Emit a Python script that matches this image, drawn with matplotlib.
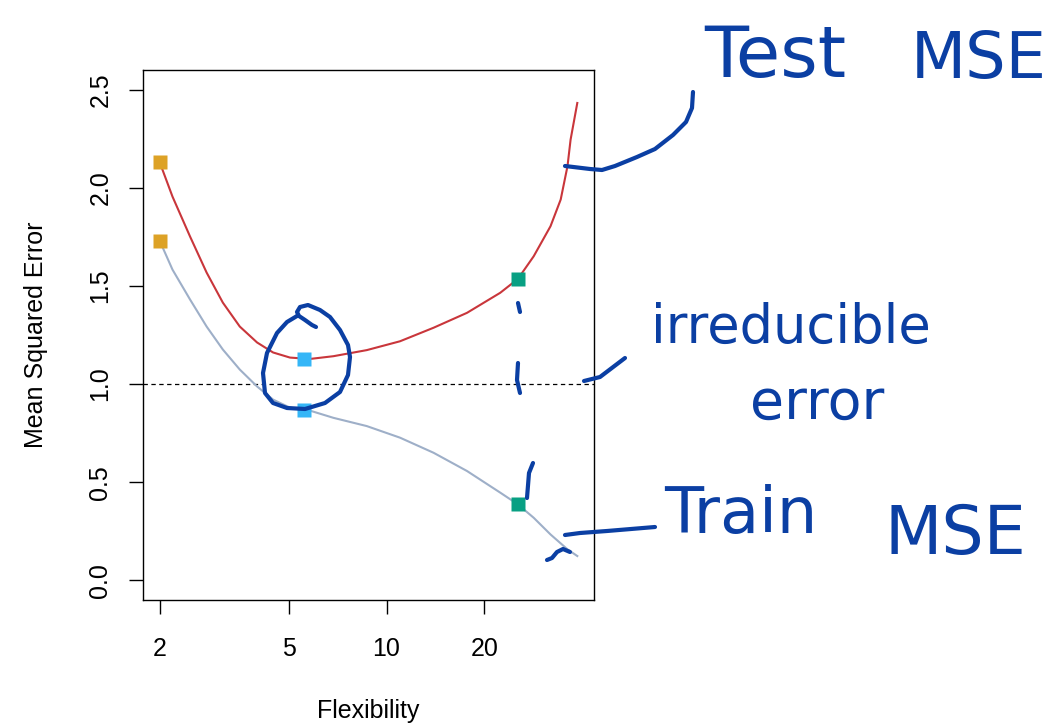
import matplotlib
matplotlib.use('Agg')
import matplotlib.pyplot as plt
import numpy as np

plt.rcParams['font.family'] = ['Liberation Sans', 'DejaVu Sans']

# curves (flexibility on a log axis)
flex_test = [2, 2.19, 2.48, 2.79, 3.13, 3.53, 3.99, 4.47, 5.04, 5.56, 5.88, 6.86, 8.69,
             11.0, 13.96, 17.7, 22.4, 25.4, 28.4, 32.0, 34.4, 36.1, 36.9, 38.7]
test_mse = [2.13, 1.955, 1.752, 1.568, 1.415, 1.293, 1.212, 1.161, 1.135, 1.13, 1.129, 1.142, 1.173,
            1.218, 1.287, 1.363, 1.465, 1.536, 1.651, 1.804, 1.94, 2.11, 2.245, 2.432]

flex_train = [2, 2.19, 2.48, 2.79, 3.13, 3.53, 3.99, 4.47, 5.04, 5.56, 5.88, 6.86, 8.69,
              11.0, 13.96, 17.7, 22.4, 25.4, 28.4, 32.0, 36.1, 38.7]
train_mse = [1.73, 1.583, 1.431, 1.293, 1.176, 1.074, 0.988, 0.921, 0.88, 0.87, 0.862, 0.828, 0.786,
             0.727, 0.65, 0.557, 0.447, 0.387, 0.319, 0.234, 0.158, 0.124]

# the three fitted models
pt_flex = [2, 5.56, 25.4]
pt_test = [2.13, 1.13, 1.536]
pt_train = [1.73, 0.87, 0.387]
pt_colors = ['#DDA226', '#35B6F7', '#08A083']

irreducible = 1.0
x_ticks = [2, 5, 10, 20]
y_ticks = [0.0, 0.5, 1.0, 1.5, 2.0, 2.5]

ink = '#0B3FA3'

fig = plt.figure(figsize=(10.56, 7.26), dpi=100)
ax = fig.add_axes([143/1056, 1 - 600/726, 451/1056, 530/726])

ax.plot(flex_test, test_mse, color='#C9363B', lw=1.5, zorder=2)
ax.plot(flex_train, train_mse, color='#9EAFC8', lw=1.5, zorder=2)
ax.axhline(irreducible, color='black', lw=0.9, ls=(0, (3.5, 2.8)), zorder=1)
for f, a, b, c in zip(pt_flex, pt_test, pt_train, pt_colors):
    ax.plot([f, f], [a, b], ls='none', marker='s', ms=10.5, color=c, mec='none', zorder=3)

ax.set_xscale('log')
lo, hi = np.log10(min(flex_test)), np.log10(max(flex_test))
pad = 0.04 * (hi - lo)
ax.set_xlim(10 ** (lo - pad), 10 ** (hi + pad))
ax.set_ylim(-0.1, 2.6)
ax.set_xticks(x_ticks)
ax.set_xticklabels([str(t) for t in x_ticks])
ax.xaxis.set_minor_locator(matplotlib.ticker.NullLocator())
ax.set_yticks(y_ticks)
ax.set_yticklabels(['%.1f' % t for t in y_ticks], rotation=90, va='center')
ax.tick_params(axis='both', length=10, width=1, labelsize=18, color='black')
ax.tick_params(axis='x', pad=17)
ax.tick_params(axis='y', pad=12)
for s in ax.spines.values():
    s.set_linewidth(1)
    s.set_color('black')

ax.set_xlabel('Flexibility', fontsize=18)
ax.set_ylabel('Mean Squared Error', fontsize=18)
ax.xaxis.set_label_coords(0.5, (600 - 711) / 530)
ax.xaxis.label.set_va('center')
ax.yaxis.set_label_coords((36 - 143) / 451, 0.5)
ax.yaxis.label.set_va('center')

# handwritten notes on top, in pixel coordinates of the picture
ov = fig.add_axes([0, 0, 1, 1], zorder=5)
ov.set_xlim(0, 1056)
ov.set_ylim(726, 0)
ov.axis('off')
ov.patch.set_alpha(0)

strokes = [
    # loop round the best model
    [(316, 327), (312, 325), (305, 320), (299, 316), (297, 312), (300, 307), (308, 305), (320, 310),
     (330, 317), (340, 330), (348, 345), (350, 357), (348, 375), (340, 392), (325, 403), (305, 409),
     (287, 408), (273, 403), (265, 393), (263, 373), (267, 353), (277, 333), (287, 322), (297, 316)],
    # gap marks at the complex model
    [(518, 303), (520, 312)],
    [(518, 363), (517, 380), (520, 393)],
    [(533, 463), (529, 473), (527, 498)],
    # leaders
    [(565, 166), (590, 169), (602, 170), (615, 166), (637, 157), (655, 149), (673, 135), (686, 122),
     (692, 108), (693, 92)],
    [(584, 381), (600, 377), (625, 358)],
    [(565, 535), (580, 533), (607, 531), (655, 527)],
    [(547, 560), (552, 558), (557, 552), (563, 549), (570, 552)],
]
for st in strokes:
    xs, ys = zip(*st)
    ov.plot(xs, ys, color=ink, lw=3, solid_capstyle='round', solid_joinstyle='round')

notes = [('Test', 775, 58, 52), ('MSE', 979, 60, 46),
         ('irreducible', 791, 328, 38), ('error', 817, 404, 40),
         ('Train', 741, 515, 46), ('MSE', 955, 535, 48)]
for txt, x, y, size in notes:
    ov.text(x, y, txt, color=ink, fontsize=size, ha='center', va='center',
            family=['DejaVu Sans'])

fig.savefig('out.png', dpi=100)
